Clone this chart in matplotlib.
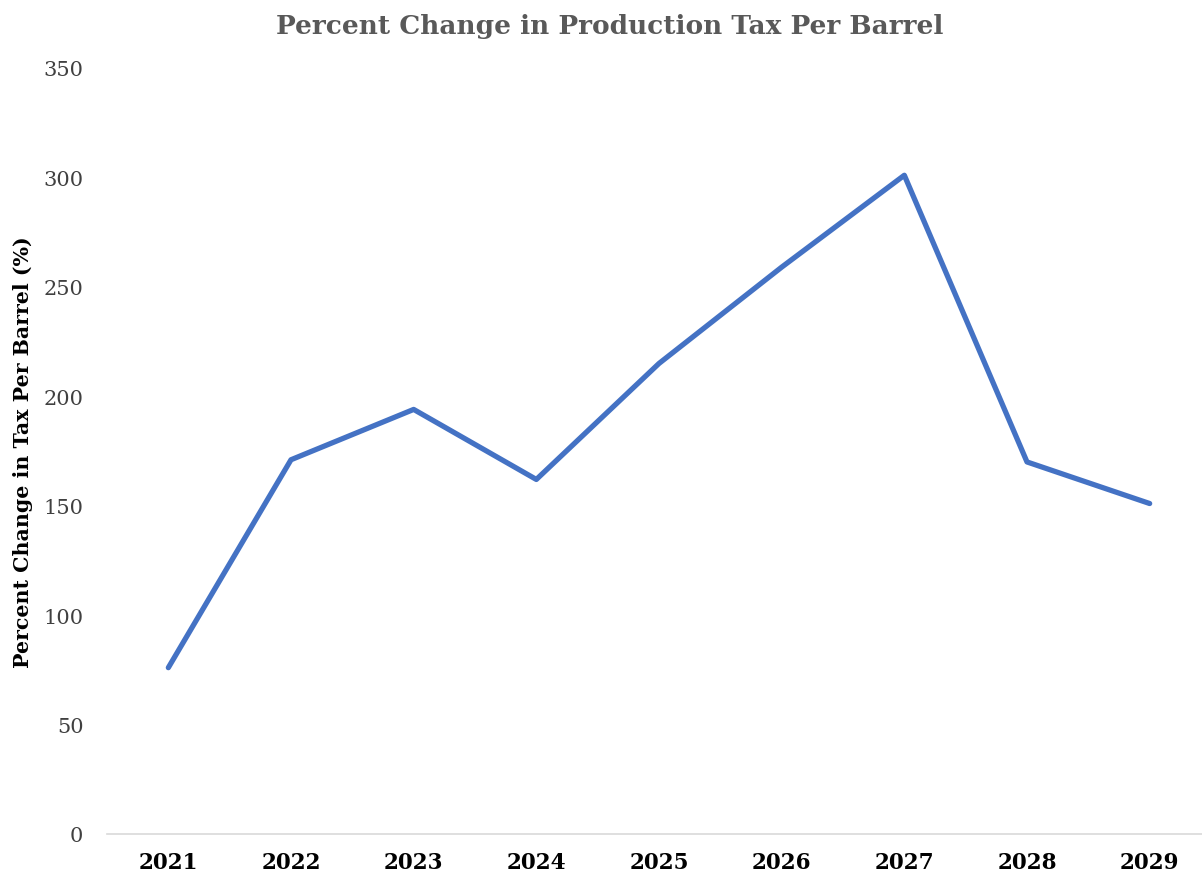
import matplotlib.pyplot as plt

years = ["2021", "2022", "2023", "2024", "2025", "2026", "2027", "2028", "2029"]
pct_change = [76, 171, 194, 162, 215, 259, 301, 170, 151]

plt.rcParams['font.family'] = ['DejaVu Serif']

fig = plt.figure(figsize=(12.02, 8.78), dpi=100)
ax = fig.add_axes([107 / 1202, 43 / 878, 1104 / 1202, 766 / 878])

x = list(range(len(years)))
ax.plot(x, pct_change, color="#4472C4", linewidth=3.8, solid_capstyle="round",
        solid_joinstyle="round")

ax.set_xlim(-0.5, len(years) - 0.5)
ax.set_ylim(0, 350)
ax.set_yticks(range(0, 351, 50))
ax.set_xticks(x)
ax.set_xticklabels(years, fontsize=15.5, fontweight="bold", color="black")
ax.tick_params(axis="y", labelsize=15, labelcolor="#404040", length=0, pad=17)
ax.tick_params(axis="x", length=0, pad=12)

for s in ["top", "right", "left"]:
    ax.spines[s].set_visible(False)
ax.spines["bottom"].set_color("#D9D9D9")
ax.spines["bottom"].set_linewidth(1.2)

ax.set_ylabel("Percent Change in Tax Per Barrel (%)", fontsize=14.8,
              fontweight="bold", color="black")
ax.yaxis.set_label_coords(-0.067, 0.5)

fig.text(0.507, 0.97, "Percent Change in Production Tax Per Barrel",
         ha="center", va="center", fontsize=19, fontweight="bold",
         color="#595959")

fig.savefig("out.png", dpi=100)
